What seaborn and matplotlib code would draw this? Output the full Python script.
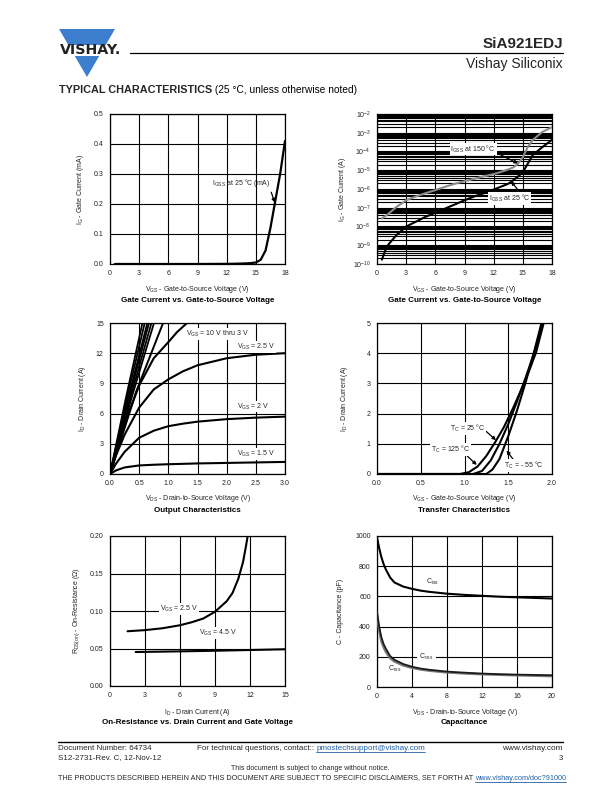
import numpy as np
import pandas as pd
import matplotlib
matplotlib.use("Agg")
import matplotlib.pyplot as plt
import seaborn as sns
from matplotlib.patches import Polygon, Rectangle
from matplotlib.lines import Line2D
from matplotlib.ticker import NullFormatter, LogLocator

# ---------------- data ----------------
# Gate current vs VGS (linear, mA)
vgs_ig = [0.5, 3, 6, 9, 12, 13, 14, 14.5, 15, 15.5, 16, 16.5, 17, 17.5, 18]
ig_25_mA = [0, 0, 0, 0, 0.0005, 0.001, 0.002, 0.003, 0.005, 0.014, 0.045, 0.12, 0.21, 0.30, 0.41]

# Gate current vs VGS (log, A)
vgs_log = [0.5, 1, 2, 3, 4, 5, 6, 7, 8, 9, 10, 11, 12, 13, 13.5, 14, 14.5, 15, 15.5, 16, 17, 18]
ig_150C = [2.7e-8, 4e-8, 1.1e-7, 2.5e-7, 4e-7, 6e-7, 8.7e-7, 1.3e-6, 1.9e-6, 2.6e-6, 3.5e-6,
           4.8e-6, 6.2e-6, 9e-6, 1.1e-5, 1.4e-5, 2.2e-5, 5e-5, 1.7e-4, 4e-4, 1.1e-3, 2e-3]
ig_25C = [1.7e-10, 8.5e-10, 3.5e-9, 1e-8, 1.8e-8, 3.3e-8, 5.4e-8, 9e-8, 1.5e-7, 2.5e-7, 4e-7,
          6e-7, 9.3e-7, 1.5e-6, 1.9e-6, 2.9e-6, 4.6e-6, 8e-6, 2.2e-5, 6.3e-5, 1.7e-4, 4.2e-4]

# Output characteristics
steep_vds_end = [0.556, 0.595, 0.64, 0.668, 0.71, 0.754]
steep_id_mid = [7.7, 7.7, 7.7, 7.7, 7.7, 7.7]
vds_4v = [0, 0.45, 0.91]
id_4v = [0, 8.2, 15]
vds_3v = [0, 0.1, 0.25, 0.5, 0.75, 1.0, 1.15, 1.32]
id_3v = [0, 2.2, 5.0, 8.8, 11.5, 13.1, 14.1, 15]
vds_out = [0, 0.1, 0.25, 0.5, 0.75, 1.0, 1.25, 1.5, 2.0, 2.5, 3.0]
id_2v5 = [0, 1.8, 3.9, 6.6, 8.4, 9.4, 10.2, 10.8, 11.5, 11.85, 12.0]
id_2v = [0, 1.0, 2.2, 3.6, 4.3, 4.75, 5.0, 5.2, 5.45, 5.6, 5.7]
id_1v5 = [0, 0.35, 0.65, 0.85, 0.92, 0.97, 1.01, 1.05, 1.1, 1.15, 1.2]

# Transfer characteristics
vgs_125 = [0.0, 0.95, 1.05, 1.15, 1.25, 1.35, 1.45, 1.55, 1.65, 1.75, 1.82, 1.905]
id_125 = [0, 0, 0.06, 0.25, 0.6, 1.05, 1.55, 2.15, 2.8, 3.5, 4.05, 5.0]
vgs_25 = [0.0, 1.1, 1.2, 1.3, 1.4, 1.5, 1.6, 1.7, 1.8, 1.89]
id_25 = [0, 0, 0.1, 0.45, 1.0, 1.65, 2.4, 3.2, 4.05, 4.95]
vgs_m55 = [0.0, 1.25, 1.32, 1.4, 1.46, 1.5, 1.6, 1.7, 1.8, 1.88]
id_m55 = [0, 0, 0.15, 0.5, 0.95, 1.25, 2.1, 3.05, 4.1, 5.0]

# On-resistance
id_r25 = [1.5, 3, 4.5, 6, 7, 8, 9, 10, 10.5, 11, 11.4, 11.65, 11.8]
r_2v5 = [0.073, 0.0745, 0.077, 0.081, 0.085, 0.090, 0.099, 0.113, 0.124, 0.143, 0.165, 0.186, 0.20]
id_r45 = [2.2, 6, 9, 12, 15]
r_4v5 = [0.0453, 0.0462, 0.047, 0.048, 0.049]

# Capacitance
vds_c = [0, 0.25, 0.5, 0.75, 1, 1.5, 2, 3, 4, 5, 6, 8, 10, 12, 14, 16, 18, 20]
ciss = [990, 920, 860, 815, 780, 725, 692, 665, 650, 638, 630, 618, 610, 604, 598, 594, 590, 586]
coss = [500, 400, 330, 285, 255, 205, 180, 152, 134, 122, 114, 102, 95, 89, 85, 82, 80, 78]
crss = [470, 370, 300, 262, 232, 190, 168, 142, 126, 115, 107, 96, 89, 84, 80, 77, 74, 71]

# ---------------- setup ----------------
sns.set_theme(style="white")
plt.rcParams['font.family'] = ['Liberation Sans', 'DejaVu Sans']
plt.rcParams['mathtext.default'] = 'regular'
plt.rcParams['axes.unicode_minus'] = False

W, H = 612, 792
fig = plt.figure(figsize=(W / 100, H / 100), dpi=100)
fig.patch.set_facecolor('white')


def fx(x):
    return x / W


def fy(y):
    return 1 - y / H


TICK_FS = 5.0
LAB_FS = 5.0
TITLE_FS = 5.8
ANN_FS = 5.0


def make_ax(box, xlim, ylim, xticks, yticks, xlabel, ylabel, xl_y, yl_x, title, title_y,
            xfmt=None, yfmt=None, logy=False):
    l, t, r, b = box
    ax = fig.add_axes([fx(l), fy(b), (r - l) / W, (b - t) / H])
    ax.set_facecolor('white')
    if logy:
        ax.set_yscale('log')
    ax.set_xlim(*xlim)
    ax.set_ylim(*ylim)
    ax.set_xticks(xticks)
    ax.set_yticks(yticks)
    if xfmt is not None:
        ax.set_xticklabels(xfmt)
    if yfmt is not None:
        ax.set_yticklabels(yfmt)
    for s in ax.spines.values():
        s.set_visible(True)
        s.set_color('black')
        s.set_linewidth(0.9)
    ax.tick_params(length=0, labelsize=TICK_FS, colors='#222222', pad=4.5)
    ax.grid(True, which='major', color='black', lw=0.8)
    ax.set_axisbelow(True)
    ax.set_xlabel(xlabel, fontsize=LAB_FS, color='#222222')
    ax.set_ylabel(ylabel, fontsize=LAB_FS, color='#222222')
    ax.xaxis.set_label_coords(0.5, (b - (xl_y - 3.5)) / (b - t))
    ax.yaxis.set_label_coords((yl_x + 3.5 - l) / (r - l), 0.5)
    fig.text(fx((l + r) / 2), fy(title_y), title, ha='center', va='center',
             fontsize=TITLE_FS, weight='bold', color='black')
    return ax


def curve(ax, x, y, color='black', lw=1.5):
    sns.lineplot(x=x, y=y, ax=ax, color=color, lw=lw, sort=False, estimator=None,
                 legend=False, zorder=3)


box_style = dict(facecolor='white', edgecolor='none', pad=0.6)
arrow_kw = dict(arrowstyle='-|>', color='black', lw=0.9, mutation_scale=5, shrinkA=0, shrinkB=0)

# ---------------- header ----------------
tri = Polygon([[fx(59), fy(29)], [fx(115), fy(29)], [fx(87), fy(77)]], closed=True,
              transform=fig.transFigure, facecolor='#3d7ecf', edgecolor='none')
fig.patches.append(tri)
band = Rectangle((fx(55), fy(55.5)), 75 / W, 11 / H, transform=fig.transFigure,
                 facecolor='white', edgecolor='none')
fig.patches.append(band)
t_logo = fig.text(fx(59.5), fy(50.3), 'VISHAY.', ha='left', va='center', fontsize=9.5,
                  weight='bold', family=['DejaVu Sans'], color='#222222')
fig.add_artist(Line2D([fx(130), fx(563)], [fy(52.5), fy(52.5)], transform=fig.transFigure,
                      color='black', lw=0.9))
fig.text(fx(563), fy(44), 'SiA921EDJ', ha='right', va='center', fontsize=11, weight='bold')
t_vs = fig.text(fx(563), fy(64), 'Vishay Siliconix', ha='right', va='center', fontsize=10)
t_head = fig.text(fx(59), fy(90), 'TYPICAL CHARACTERISTICS', ha='left', va='center',
                  fontsize=7.9, weight='heavy')

# ---------------- charts ----------------
L1, R1 = 110, 285
L2, R2 = 377, 552

# 1: gate current linear
ax1 = make_ax((L1, 114, R1, 264), (0, 18), (0, 0.5), [0, 3, 6, 9, 12, 15, 18],
              [0, 0.1, 0.2, 0.3, 0.4, 0.5],
              'V$_{GS}$ - Gate-to-Source Voltage (V)', 'I$_G$ - Gate Current (mA)', 288, 82,
              'Gate Current vs. Gate-to-Source Voltage', 300,
              yfmt=['0.0', '0.1', '0.2', '0.3', '0.4', '0.5'])
curve(ax1, vgs_ig, ig_25_mA, lw=1.6)
ax1.annotate('I$_{GSS}$ at 25 °C (mA)', xy=(16.95, 0.205), xytext=(10.45, 0.27),
             fontsize=ANN_FS, va='center', ha='left', zorder=5,
             arrowprops=dict(arrow_kw, relpos=(1.0, 0.0)))

# 2: gate current log
ax2 = make_ax((L2, 114, R2, 264), (0, 18), (1e-10, 1e-2), [0, 3, 6, 9, 12, 15, 18],
              [10.0 ** k for k in range(-10, -1)],
              'V$_{GS}$ - Gate-to-Source Voltage (V)', 'I$_G$ - Gate Current (A)', 288, 345,
              'Gate Current vs. Gate-to-Source Voltage', 300,
              yfmt=['10$^{%d}$' % k for k in range(-10, -1)], logy=True)
ax2.yaxis.set_minor_locator(LogLocator(base=10, subs=np.arange(2, 10), numticks=100))
ax2.yaxis.set_minor_formatter(NullFormatter())
ax2.tick_params(which='minor', length=0)
ax2.grid(True, which='minor', axis='y', color='black', lw=0.8)
curve(ax2, vgs_log, ig_150C, color='#8a8a8a', lw=1.5)
curve(ax2, vgs_log, ig_25C, color='black', lw=1.5)
ax2.annotate('I$_{GSS}$ at 150 °C', xy=(14.5, 2.3e-5), xytext=(7.55, 1.35e-4),
             fontsize=ANN_FS, va='center', ha='left', zorder=5, bbox=box_style,
             arrowprops=dict(arrow_kw, relpos=(1.0, 0.2)))
ax2.annotate('I$_{GSS}$ at 25 °C', xy=(13.8, 2.6e-6), xytext=(11.5, 3.2e-7),
             fontsize=ANN_FS, va='center', ha='left', zorder=5, bbox=box_style,
             arrowprops=dict(arrow_kw, relpos=(0.75, 1.0)))

# 3: output characteristics
ax3 = make_ax((L1, 323, R1, 474), (0, 3), (0, 15), [0, 0.5, 1.0, 1.5, 2.0, 2.5, 3.0],
              [0, 3, 6, 9, 12, 15],
              'V$_{DS}$ - Drain-to-Source Voltage (V)', 'I$_D$ - Drain Current (A)', 497, 84,
              'Output Characteristics', 510,
              xfmt=['0.0', '0.5', '1.0', '1.5', '2.0', '2.5', '3.0'])
for xe, ym in zip(steep_vds_end, steep_id_mid):
    curve(ax3, [0, xe / 2, xe], [0, ym, 15], lw=1.3)
curve(ax3, vds_4v, id_4v, lw=1.4)
curve(ax3, vds_3v, id_3v, lw=1.5)
curve(ax3, vds_out, id_2v5, lw=1.5)
curve(ax3, vds_out, id_2v, lw=1.5)
curve(ax3, vds_out, id_1v5, lw=1.5)
for txt, xx, yy in [('V$_{GS}$ = 10 V thru 3 V', 1.31, 13.9), ('V$_{GS}$ = 2.5 V', 2.17, 12.65),
                    ('V$_{GS}$ = 2 V', 2.17, 6.7), ('V$_{GS}$ = 1.5 V', 2.17, 1.95)]:
    ax3.text(xx, yy, txt, fontsize=ANN_FS, va='center', ha='left', zorder=5, bbox=box_style)

# 4: transfer characteristics
ax4 = make_ax((L2, 323, R2, 474), (0, 2), (0, 5), [0, 0.5, 1.0, 1.5, 2.0], [0, 1, 2, 3, 4, 5],
              'V$_{GS}$ - Gate-to-Source Voltage (V)', 'I$_D$ - Drain Current (A)', 497, 347,
              'Transfer Characteristics', 510,
              xfmt=['0.0', '0.5', '1.0', '1.5', '2.0'])
curve(ax4, vgs_125, id_125, lw=1.5)
curve(ax4, vgs_25, id_25, lw=1.5)
curve(ax4, vgs_m55, id_m55, lw=1.5)
ax4.annotate('T$_C$ = 25 °C', xy=(1.36, 1.12), xytext=(0.83, 1.52), fontsize=ANN_FS,
             va='center', ha='left', zorder=5, bbox=box_style,
             arrowprops=dict(arrow_kw, relpos=(1.0, 0.3)))
ax4.annotate('T$_C$ = 125 °C', xy=(1.14, 0.3), xytext=(0.62, 0.8), fontsize=ANN_FS,
             va='center', ha='left', zorder=5, bbox=box_style,
             arrowprops=dict(arrow_kw, relpos=(0.9, 0.0)))
ax4.annotate('T$_C$ = - 55 °C', xy=(1.48, 0.78), xytext=(1.45, 0.27), fontsize=ANN_FS,
             va='center', ha='left', zorder=5, bbox=box_style,
             arrowprops=dict(arrow_kw, relpos=(0.25, 1.0)))

# 5: on-resistance
ax5 = make_ax((L1, 536, R1, 686), (0, 15), (0, 0.2), [0, 3, 6, 9, 12, 15],
              [0, 0.05, 0.10, 0.15, 0.20],
              'I$_D$ - Drain Current (A)', 'R$_{DS(on)}$ - On-Resistance (Ω)', 710, 78,
              'On-Resistance vs. Drain Current and Gate Voltage', 722,
              yfmt=['0.00', '0.05', '0.10', '0.15', '0.20'])
curve(ax5, id_r25, r_2v5, lw=1.5)
curve(ax5, id_r45, r_4v5, lw=1.5)
ax5.text(4.3, 0.1027, 'V$_{GS}$ = 2.5 V', fontsize=ANN_FS, va='center', ha='left', zorder=5,
         bbox=box_style)
ax5.text(7.6, 0.0705, 'V$_{GS}$ = 4.5 V', fontsize=ANN_FS, va='center', ha='left', zorder=5,
         bbox=box_style)

# 6: capacitance
ax6 = make_ax((L2, 536, R2, 687), (0, 20), (0, 1000), [0, 4, 8, 12, 16, 20],
              [0, 200, 400, 600, 800, 1000],
              'V$_{DS}$ - Drain-to-Source Voltage (V)', 'C - Capacitance (pF)', 711, 340,
              'Capacitance', 722)
curve(ax6, vds_c, ciss, lw=1.5)
curve(ax6, vds_c, crss, color='#7a7a7a', lw=1.6)
curve(ax6, vds_c, coss, color='#1a1a1a', lw=1.3)
ax6.text(5.6, 693, 'C$_{iss}$', fontsize=ANN_FS, va='center', ha='left', zorder=5)
ax6.text(4.8, 197, 'C$_{oss}$', fontsize=ANN_FS, va='center', ha='left', zorder=5,
         bbox=dict(facecolor='white', edgecolor='none', pad=1.5))
ax6.text(1.3, 119, 'C$_{rss}$', fontsize=ANN_FS, va='center', ha='left', zorder=5)

# ---------------- footer ----------------
fig.add_artist(Line2D([fx(58), fx(563)], [fy(741.5), fy(741.5)], transform=fig.transFigure,
                      color='black', lw=1.0))
FFS = 5.6
LINK = '#1f5fa8'
t_doc = fig.text(fx(58), fy(748), 'Document Number: 64734', ha='left', va='center', fontsize=FFS)
t_rev = fig.text(fx(58), fy(758), 'S12-2731-Rev. C, 12-Nov-12', ha='left', va='center',
                 fontsize=FFS)
t_www = fig.text(fx(563), fy(748), 'www.vishay.com', ha='right', va='center', fontsize=FFS)
fig.text(fx(563), fy(758), '3', ha='right', va='center', fontsize=FFS)
t_chg = fig.text(fx(310), fy(768), 'This document is subject to change without notice.',
                 ha='center', va='center', fontsize=FFS)
t_q = fig.text(fx(197), fy(748), 'For technical questions, contact:: ', ha='left', va='center',
               fontsize=FFS)
t_disc = fig.text(fx(58), fy(778),
                  'THE PRODUCTS DESCRIBED HEREIN AND THIS DOCUMENT ARE SUBJECT TO SPECIFIC '
                  'DISCLAIMERS, SET FORTH AT ', ha='left', va='center', fontsize=FFS)

fig.canvas.draw()
rend = fig.canvas.get_renderer()


def width_px(t):
    return t.get_window_extent(rend).width


def fit(t, target):
    t.set_fontsize(t.get_fontsize() * target / width_px(t))


# fit single texts to the widths measured on the reference page
fit(t_logo, 62)
fit(t_vs, 97)
fit(t_head, 154)
fit(t_doc, 94)
fit(t_rev, 103)
fit(t_www, 60)
fit(t_chg, 158)

# composite lines: scale both parts together
q_link = 'pmostechsupport@vishay.com'
d_link = 'www.vishay.com/doc?91000'
for base, link, target in [(t_q, q_link, 227), (t_disc, d_link, 505)]:
    tmp = fig.text(0, 0, link, fontsize=base.get_fontsize())
    total = width_px(base) + width_px(tmp)
    tmp.remove()
    base.set_fontsize(base.get_fontsize() * target / total)


def add_after(t, text, color, fs, underline=False):
    x1 = t.get_window_extent(rend).x1
    yy = t.get_position()[1]
    nt = fig.text(x1 / W, yy, text, ha='left', va='center', fontsize=fs, color=color)
    if underline:
        bb = nt.get_window_extent(rend)
        ul = bb.y0 - 0.2
        fig.add_artist(Line2D([bb.x0 / W, bb.x1 / W], [ul / H, ul / H],
                              transform=fig.transFigure, color=color, lw=0.6))
    return nt


t_rest = add_after(t_head, ' (25 °C, unless otherwise noted)', 'black', 7.2)
t_rest.set_fontsize(7.2 * 144 / width_px(t_rest))
add_after(t_q, q_link, LINK, t_q.get_fontsize(), underline=True)
add_after(t_disc, d_link, LINK, t_disc.get_fontsize(), underline=True)

fig.savefig('out.png', dpi=100, facecolor='white')
